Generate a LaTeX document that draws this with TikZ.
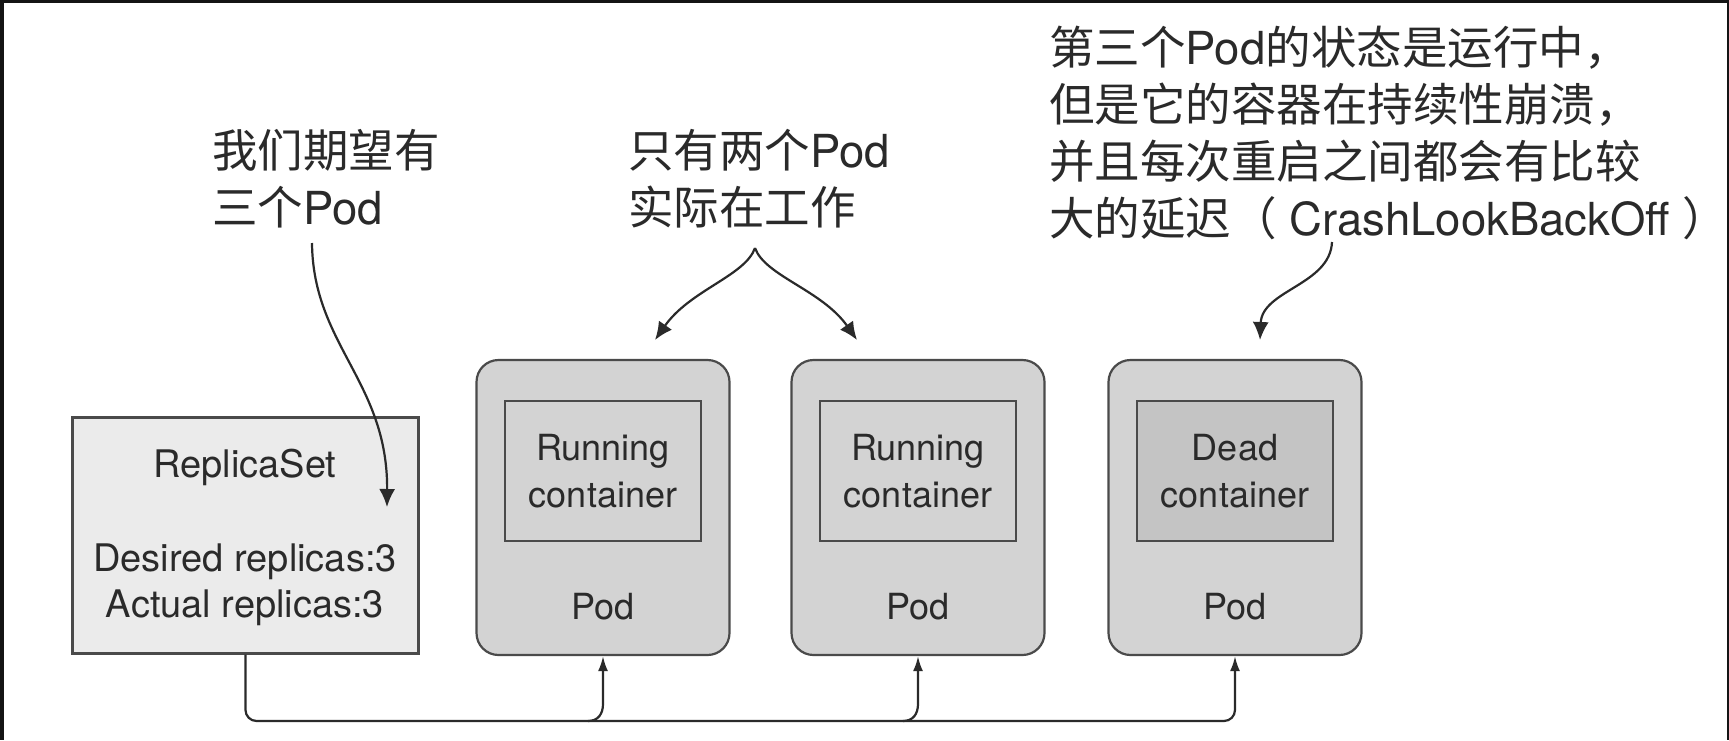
\documentclass[tikz,border=0pt]{standalone}
\usepackage{fontspec}
\setmainfont{TeX Gyre Heros}
\newfontfamily\cjk{Noto Sans CJK SC}
\usetikzlibrary{arrows.meta}

\definecolor{frame}{HTML}{141414}
\definecolor{ink}{HTML}{2A2A2A}
\definecolor{edge}{HTML}{4A4A4A}
\definecolor{rsfill}{HTML}{EBEBEB}
\definecolor{podfill}{HTML}{D3D3D3}
\definecolor{deadfill}{HTML}{C4C4C4}

% Chinese runs are set in the CJK family, Latin runs stay in Heros
\newcommand\zh[1]{{\cjk #1}}

\begin{document}
\begin{tikzpicture}[x=1pt,y=-1pt,
  rsbox/.style={draw=edge, line width=2.2pt, fill=rsfill,
    minimum width=346pt, minimum height=236pt, inner sep=0pt},
  podbox/.style={draw=edge, line width=2.2pt, fill=podfill, rounded corners=22pt,
    minimum width=253pt, minimum height=295pt, inner sep=0pt},
  ctbox/.style={draw=edge, line width=2.2pt, fill=podfill,
    minimum width=196pt, minimum height=140pt, inner sep=0pt,
    align=center, text=ink, font=\fontsize{36}{47}\selectfont},
  lbl/.style={inner sep=0pt, text=ink, font=\fontsize{36}{46}\selectfont},
  rslbl/.style={lbl, font=\fontsize{38}{46}\selectfont},
  note/.style={inner sep=0pt, text=ink, align=left, font=\fontsize{45.5}{57}\selectfont},
  wire/.style={draw=ink, line width=2.2pt},
  podarrow/.style={wire, -{Latex[length=15pt,width=10pt]}},
  callout/.style={wire, -{Latex[length=18pt,width=16pt]}}
]
\useasboundingbox (0,0) rectangle (1729,740);
% dark frame around the sheet
\fill[frame] (0,0) rectangle (1729,740);
\fill[white] (4,2.5) rectangle (1726.5,740);

% ReplicaSet
\node[rsbox] (rs) at (245.5,535.5) {};
\node[rslbl, anchor=base] (rsname) at (245,477) {ReplicaSet};
\node[rslbl, anchor=base] (rsdesired) at (245,571) {Desired replicas:3};
\node[rslbl, anchor=base] (rsactual) at (245,617) {Actual replicas:3};

% Pods
\node[podbox] (pod1) at (603,507.5) {};
\node[podbox] (pod2) at (918,507.5) {};
\node[podbox] (pod3) at (1235,507.5) {};
\node[ctbox] (ct1) at (603,471) {Running\\container};
\node[ctbox] (ct2) at (918,471) {Running\\container};
\node[ctbox, fill=deadfill] (ct3) at (1235,471) {Dead\\container};
\node[lbl, anchor=base] (podname1) at (603,619) {Pod};
\node[lbl, anchor=base] (podname2) at (918,619) {Pod};
\node[lbl, anchor=base] (podname3) at (1235,619) {Pod};

% ReplicaSet feeding the pods
\coordinate (busend) at (1235,721);
\coordinate (j1) at (588,721);
\coordinate (k1) at (603,704);
\coordinate (j2) at (903,721);
\coordinate (k2) at (918,704);
\draw[podarrow, rounded corners=11pt] (rs.south) |- (busend) -- (pod3.south);
\draw[podarrow] (j1) .. controls (598,721) and (603,714) .. (k1) -- (pod1.south);
\draw[podarrow] (j2) .. controls (913,721) and (918,714) .. (k2) -- (pod2.south);

% Callouts (anchored on the baseline of their last line)
\node[note, anchor=base west] (want) at (212,224)
  {\zh{我们期望有}\\\zh{三个}Pod};
\node[note, anchor=base west] (working) at (628,224)
  {\zh{只有两个}Pod\\\zh{实际在工作}};
\node[note, anchor=base west] (crash) at (1049,235)
  {\zh{第三个}Pod\zh{的状态是运行中，}\\
   \zh{但是它的容器在持续性崩溃，}\\
   \zh{并且每次重启之间都会有比较}\\
   \zh{大的延迟（} CrashLookBackOff \zh{）}};

\coordinate (a1s) at (312,243);
\coordinate (a1e) at (387,507);
\draw[callout] (a1s) .. controls (313,345) and (388,382) .. (a1e);

\coordinate (a2s) at (755,248);
\coordinate (a2l) at (655,340);
\coordinate (a2r) at (857,340);
\draw[callout] (a2s) .. controls (745,276) and (690,290) .. (a2l);
\draw[callout] (a2s) .. controls (765,276) and (822,290) .. (a2r);

\coordinate (a3s) at (1332,242);
\coordinate (a3e) at (1260,340);
\draw[callout] (a3s) .. controls (1330,285) and (1262,290) .. (a3e);
\end{tikzpicture}
\end{document}
